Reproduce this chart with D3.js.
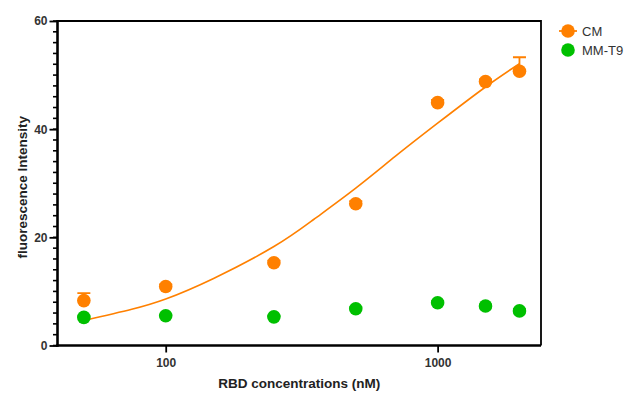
<!DOCTYPE html>
<html>
<head>
<meta charset="utf-8">
<script src="https://cdn.jsdelivr.net/npm/d3@7"></script>
<style>
  body { margin: 0; background: #fff; }
  text { font-family: "Liberation Sans", Arial, sans-serif; }
</style>
</head>
<body>
<svg id="chart"></svg>
<script>
// concentrations (nM)
const concentrations = [50, 100, 250, 500, 1000, 1500, 2000];
const cmMean = [8.3, 10.9, 15.3, 26.2, 44.9, 48.8, 50.7];
const cmErr = [1.4, 0.4, 0.4, 0.5, 0.5, 0.4, 2.6];
const mmMean = [5.2, 5.5, 5.3, 6.8, 7.9, 7.3, 6.4];
const mmErr = [0.2, 0.2, 0.2, 0.3, 0.3, 0.3, 0.3];

// fitted curve for CM
const fitX = [50, 75, 100, 150, 250, 350, 500, 700, 1000, 1500, 2000];
const fitY = [4.6, 6.7, 8.6, 12.4, 18.3, 23.3, 29.1, 35.0, 41.1, 47.8, 52.1];

const xTicks = [100, 1000];
const yMajor = [0, 20, 40, 60];
const yMinor = d3.range(0, 61, 2);

const seriesNames = ['CM', 'MM-T9'];
const colors = ['#ff8000', '#00c000'];

const width = 625, height = 394;
const margin = { top: 21, right: 84, bottom: 48.5, left: 57.5 };

const svg = d3.select('#chart')
    .attr('width', width)
    .attr('height', height);

const xScale = d3.scaleLog()
    .domain([40, 2400])
    .range([margin.left, width - margin.right]);

const yScale = d3.scaleLinear()
    .domain([0, 60])
    .range([height - margin.bottom, margin.top]);

const x0 = xScale.range()[0], x1 = xScale.range()[1];
const y0 = yScale.range()[0], y1 = yScale.range()[1];

// frame (top & right)
svg.append('path')
    .attr('d', `M${x0},${y1}H${x1}V${y0}`)
    .attr('fill', 'none')
    .attr('stroke', '#000')
    .attr('stroke-width', 1.8);

// y axis
const yAxisG = svg.append('g')
    .attr('transform', `translate(${x0},0)`);

yAxisG.selectAll('.minor')
    .data(yMinor)
    .join('line')
    .attr('x1', -4.5).attr('x2', 0)
    .attr('y1', d => yScale(d)).attr('y2', d => yScale(d))
    .attr('stroke', '#000')
    .attr('stroke-width', 1.6);

yAxisG.call(d3.axisLeft(yScale).tickValues(yMajor).tickSize(8).tickPadding(2).tickSizeOuter(0))
    .call(g => g.select('.domain').remove())
    .call(g => g.selectAll('.tick line').attr('stroke-width', 1.8))
    .call(g => g.selectAll('.tick text')
        .attr('font-size', 12).attr('font-weight', 'bold').attr('fill', '#333')
        .attr('font-family', '"Liberation Sans", Arial, sans-serif'));

yAxisG.append('line')
    .attr('x1', 0).attr('x2', 0)
    .attr('y1', y1 - 1).attr('y2', y0 + 1.2)
    .attr('stroke', '#000')
    .attr('stroke-width', 2.6);

// x axis
const xAxisG = svg.append('g')
    .attr('transform', `translate(0,${y0})`);

xAxisG.call(d3.axisBottom(xScale).tickValues(xTicks).tickFormat(d3.format('d')).tickSize(7).tickPadding(6).tickSizeOuter(0))
    .call(g => g.select('.domain').remove())
    .call(g => g.selectAll('.tick line').attr('stroke-width', 1.8))
    .call(g => g.selectAll('.tick text')
        .attr('font-size', 12).attr('font-weight', 'bold').attr('fill', '#333')
        .attr('font-family', '"Liberation Sans", Arial, sans-serif'));

xAxisG.append('line')
    .attr('x1', x0 - 1.3).attr('x2', x1)
    .attr('y1', 0).attr('y2', 0)
    .attr('stroke', '#000')
    .attr('stroke-width', 2.6);

// axis titles
svg.append('text')
    .attr('x', (x0 + x1) / 2)
    .attr('y', 388)
    .attr('text-anchor', 'middle')
    .attr('font-size', 13.5)
    .attr('font-weight', 'bold')
    .attr('fill', '#222')
    .text('RBD concentrations (nM)');

svg.append('text')
    .attr('transform', `translate(27,${(y0 + y1) / 2 + 4}) rotate(-90)`)
    .attr('text-anchor', 'middle')
    .attr('font-size', 13.5)
    .attr('font-weight', 'bold')
    .attr('fill', '#222')
    .text('fluorescence Intensity');

// fitted curve
const line = d3.line()
    .x(d => xScale(d[0]))
    .y(d => yScale(d[1]))
    .curve(d3.curveNatural);

svg.append('path')
    .datum(d3.zip(fitX, fitY))
    .attr('d', line)
    .attr('fill', 'none')
    .attr('stroke', colors[0])
    .attr('stroke-width', 1.6);

// points with upward error bars
const r = 6.8;
const series = [
    { name: seriesNames[0], mean: cmMean, err: cmErr, color: colors[0] },
    { name: seriesNames[1], mean: mmMean, err: mmErr, color: colors[1] }
];

series.slice().reverse().forEach(s => {
    const pts = concentrations.map((c, i) => ({ c, m: s.mean[i], e: s.err[i] }));
    const g = svg.append('g');
    g.selectAll('.err')
        .data(pts)
        .join('path')
        .attr('d', d => {
            const px = xScale(d.c), py = yScale(d.m), pt = yScale(d.m + d.e);
            return `M${px},${py}V${pt}M${px - 6.5},${pt}H${px + 6.5}`;
        })
        .attr('stroke', s.color)
        .attr('stroke-width', 1.8)
        .attr('fill', 'none');
    g.selectAll('circle')
        .data(pts)
        .join('circle')
        .attr('cx', d => xScale(d.c))
        .attr('cy', d => yScale(d.m))
        .attr('r', r)
        .attr('fill', s.color);
});

// legend
const legend = svg.append('g')
    .attr('transform', 'translate(568,31)');

series.forEach((s, i) => {
    const lg = legend.append('g').attr('transform', `translate(0,${i * 19})`);
    if (i === 0) {
        lg.append('line')
            .attr('x1', -9).attr('x2', 9)
            .attr('stroke', s.color)
            .attr('stroke-width', 1.8);
    }
    lg.append('circle')
        .attr('r', r)
        .attr('fill', s.color);
    lg.append('text')
        .attr('x', 14)
        .attr('y', 5)
        .attr('font-size', 13)
        .attr('fill', '#333')
        .text(s.name);
});
</script>
</body>
</html>
